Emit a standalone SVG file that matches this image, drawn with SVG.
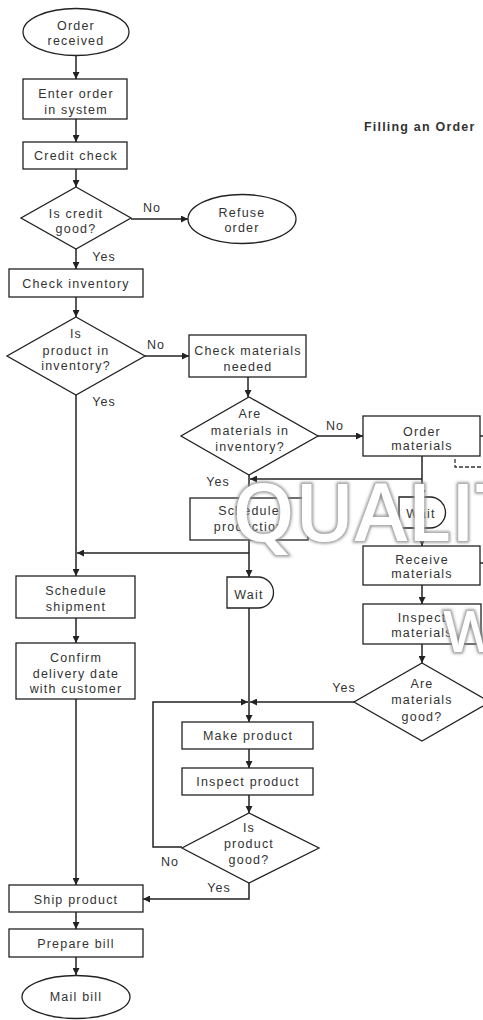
<svg xmlns="http://www.w3.org/2000/svg" width="483" height="1020" viewBox="0 0 483 1020">
  <style>
    .box { fill: #fff; stroke: #222; stroke-width: 1.3; }
    .t { font-family: "Liberation Sans", Arial, sans-serif; font-size: 12.5px; letter-spacing: 1.2px; fill: #333; text-anchor: middle; }
    .lbl { font-family: "Liberation Sans", Arial, sans-serif; font-size: 12.5px; letter-spacing: 1px; fill: #333; text-anchor: middle; }
    .c { fill: none; stroke: #222; stroke-width: 1.5; }
    .d { fill: none; stroke: #333; stroke-width: 1.3; stroke-dasharray: 4 2; }
    .title { font-family: "Liberation Sans", Arial, sans-serif; font-size: 12.5px; font-weight: bold; letter-spacing: 1.2px; fill: #333; }
    .wm { font-family: "Open Sans", "Liberation Sans", sans-serif; font-weight: 600; fill: #fff; }
    .wmEdge { font-family: "Open Sans", "Liberation Sans", sans-serif; font-weight: 600; fill: none; stroke: #8a8a8a; stroke-width: 3; }
  </style>
  <defs>
    <marker id="arr" viewBox="0 0 8 8" refX="8" refY="4" markerWidth="7" markerHeight="7" markerUnits="userSpaceOnUse" orient="auto">
      <path d="M0,0 L8,4 L0,8 Z" fill="#222"/>
    </marker>
    <filter id="soft" x="-10%" y="-10%" width="120%" height="120%">
      <feGaussianBlur stdDeviation="1.6"/>
    </filter>
  </defs>

  <rect width="483" height="1020" fill="#fff"/>

  <text class="title" x="364" y="131">Filling an Order</text>

  <!-- connectors -->
  <g id="connectors">
    <path class="c" d="M76,55 V79" marker-end="url(#arr)"/>
    <path class="c" d="M76,119 V142" marker-end="url(#arr)"/>
    <path class="c" d="M76,169 V187" marker-end="url(#arr)"/>
    <path class="c" d="M131,219 H188" marker-end="url(#arr)"/>
    <path class="c" d="M76,249 V269" marker-end="url(#arr)"/>
    <path class="c" d="M76,297 V317" marker-end="url(#arr)"/>
    <path class="c" d="M145,356 H189" marker-end="url(#arr)"/>
    <path class="c" d="M248,377 V397" marker-end="url(#arr)"/>
    <path class="c" d="M318,436 H363" marker-end="url(#arr)"/>
    <path class="c" d="M76,395 V576" marker-end="url(#arr)"/>
    <path class="c" d="M249,475 V498"/>
    <path class="c" d="M422,456 V497" marker-end="url(#arr)"/>
    <path class="c" d="M422,479 H250" marker-end="url(#arr)"/>
    <path class="c" d="M422,528 V546" marker-end="url(#arr)"/>
    <path class="c" d="M422,585 V604" marker-end="url(#arr)"/>
    <path class="c" d="M422,644 V663" marker-end="url(#arr)"/>
    <path class="c" d="M354,702 H250" marker-end="url(#arr)"/>
    <path class="c" d="M249,540 V577" marker-end="url(#arr)"/>
    <path class="c" d="M249,553 H77" marker-end="url(#arr)"/>
    <path class="c" d="M76,618 V643" marker-end="url(#arr)"/>
    <path class="c" d="M249,608 V702"/>
    <path class="c" d="M249,702 V722" marker-end="url(#arr)"/>
    <path class="c" d="M182,847 H153 V702 H248" marker-end="url(#arr)"/>
    <path class="c" d="M249,749 V768" marker-end="url(#arr)"/>
    <path class="c" d="M249,795 V813" marker-end="url(#arr)"/>
    <path class="c" d="M249,883 V899 H143" marker-end="url(#arr)"/>
    <path class="c" d="M76,699 V885" marker-end="url(#arr)"/>
    <path class="c" d="M76,912 V929" marker-end="url(#arr)"/>
    <path class="c" d="M76,957 V975" marker-end="url(#arr)"/>
    <path class="c" d="M480,436 H483"/>
    <path class="c" d="M480,563 H483"/>
    <path class="d" d="M455,459 V467 H483"/>
  </g>

  <!-- edge labels -->
  <g id="labels">
    <text class="lbl" x="152" y="212">No</text>
    <text class="lbl" x="104" y="261">Yes</text>
    <text class="lbl" x="156" y="349">No</text>
    <text class="lbl" x="104" y="406">Yes</text>
    <text class="lbl" x="335" y="430">No</text>
    <text class="lbl" x="218" y="486">Yes</text>
    <text class="lbl" x="344" y="692">Yes</text>
    <text class="lbl" x="170" y="866">No</text>
    <text class="lbl" x="219" y="892">Yes</text>
  </g>

  <g id="order-received">
    <ellipse class="box" cx="76" cy="32" rx="53" ry="23.5"/>
    <text class="t" x="76" y="29.5">Order</text>
    <text class="t" x="76" y="45">received</text>
  </g>
  <g id="enter-order">
    <rect class="box" x="23" y="79" width="104" height="40"/>
    <text class="t" x="76" y="97.5">Enter order</text>
    <text class="t" x="76" y="113.5">in system</text>
  </g>
  <g id="credit-check">
    <rect class="box" x="23" y="142" width="104" height="27"/>
    <text class="t" x="76" y="159.5">Credit check</text>
  </g>
  <g id="is-credit-good">
    <polygon class="box" points="76,187 131,218 76,249 21,218"/>
    <text class="t" x="76" y="217.5">Is credit</text>
    <text class="t" x="76" y="232.5">good?</text>
  </g>
  <g id="refuse-order">
    <ellipse class="box" cx="242" cy="219" rx="54" ry="24.5"/>
    <text class="t" x="242" y="216.5">Refuse</text>
    <text class="t" x="242" y="231.5">order</text>
  </g>
  <g id="check-inventory">
    <rect class="box" x="9" y="269" width="134" height="28"/>
    <text class="t" x="76" y="287.5">Check inventory</text>
  </g>
  <g id="product-in-inventory">
    <polygon class="box" points="76,317 145,356 76,395 7,356"/>
    <text class="t" x="76" y="337.5">Is</text>
    <text class="t" x="76" y="354.5">product in</text>
    <text class="t" x="76" y="369.5">inventory?</text>
  </g>
  <g id="check-materials">
    <rect class="box" x="189" y="335" width="117" height="42"/>
    <text class="t" x="248" y="354.5">Check materials</text>
    <text class="t" x="248" y="370.5">needed</text>
  </g>
  <g id="materials-in-inventory">
    <polygon class="box" points="249,397 318,436 249,475 181,436"/>
    <text class="t" x="250" y="417.5">Are</text>
    <text class="t" x="250" y="434.5">materials in</text>
    <text class="t" x="250" y="450.5">inventory?</text>
  </g>
  <g id="order-materials">
    <rect class="box" x="363" y="416" width="117" height="40"/>
    <text class="t" x="422" y="435.5">Order</text>
    <text class="t" x="422" y="449.5">materials</text>
  </g>
  <g id="schedule-production">
    <rect class="box" x="190" y="498" width="118" height="42"/>
    <text class="t" x="249" y="514.5">Schedule</text>
    <text class="t" x="249" y="530.5">production</text>
  </g>
  <g id="wait-materials">
    <path class="box" d="M399,497 H430 A15.5,15.5 0 0 1 430,528 H399 Z"/>
    <text class="t" x="421" y="517.5">Wait</text>
  </g>
  <g id="receive-materials">
    <rect class="box" x="363" y="546" width="117" height="39"/>
    <text class="t" x="422" y="563.5">Receive</text>
    <text class="t" x="422" y="577.5">materials</text>
  </g>
  <g id="inspect-materials">
    <rect class="box" x="363" y="604" width="118" height="40"/>
    <text class="t" x="422" y="621.5">Inspect</text>
    <text class="t" x="422" y="636.5">materials</text>
  </g>
  <g id="materials-good">
    <polygon class="box" points="422,663 490,702 422,741 354,702"/>
    <text class="t" x="422" y="687.5">Are</text>
    <text class="t" x="422" y="703.5">materials</text>
    <text class="t" x="422" y="720.5">good?</text>
  </g>
  <g id="wait-production">
    <path class="box" d="M227,577 H258 A15.5,15.5 0 0 1 258,608 H227 Z"/>
    <text class="t" x="249" y="598.5">Wait</text>
  </g>
  <g id="schedule-shipment">
    <rect class="box" x="16" y="576" width="119" height="42"/>
    <text class="t" x="76" y="594.5">Schedule</text>
    <text class="t" x="76" y="610.5">shipment</text>
  </g>
  <g id="confirm-delivery">
    <rect class="box" x="16" y="643" width="119" height="56"/>
    <text class="t" x="76" y="661.5">Confirm</text>
    <text class="t" x="76" y="677.5">delivery date</text>
    <text class="t" x="76" y="692.5">with customer</text>
  </g>
  <g id="make-product">
    <rect class="box" x="182" y="722" width="131" height="27"/>
    <text class="t" x="248" y="739.5">Make product</text>
  </g>
  <g id="inspect-product">
    <rect class="box" x="182" y="768" width="131" height="27"/>
    <text class="t" x="248" y="785.5">Inspect product</text>
  </g>
  <g id="product-good">
    <polygon class="box" points="249,813 319,848 249,883 182,848"/>
    <text class="t" x="249" y="831.5">Is</text>
    <text class="t" x="249" y="847.5">product</text>
    <text class="t" x="249" y="863.5">good?</text>
  </g>
  <g id="ship-product">
    <rect class="box" x="9" y="885" width="134" height="27"/>
    <text class="t" x="76" y="903.5">Ship product</text>
  </g>
  <g id="prepare-bill">
    <rect class="box" x="9" y="929" width="134" height="28"/>
    <text class="t" x="76" y="947.5">Prepare bill</text>
  </g>
  <g id="mail-bill">
    <ellipse class="box" cx="76" cy="997" rx="54" ry="21.5"/>
    <text class="t" x="76" y="1000.5">Mail bill</text>
  </g>

  <!-- overlay lettering -->
  <g id="overlay">
    <g filter="url(#soft)">
      <text class="wmEdge" x="232" y="541" font-size="80">QUALIT</text>
      <text class="wmEdge" x="443" y="652" font-size="58">W</text>
    </g>
    <text class="wm" x="232" y="541" font-size="80">QUALIT</text>
    <text class="wm" x="443" y="652" font-size="58">W</text>
  </g>
</svg>
